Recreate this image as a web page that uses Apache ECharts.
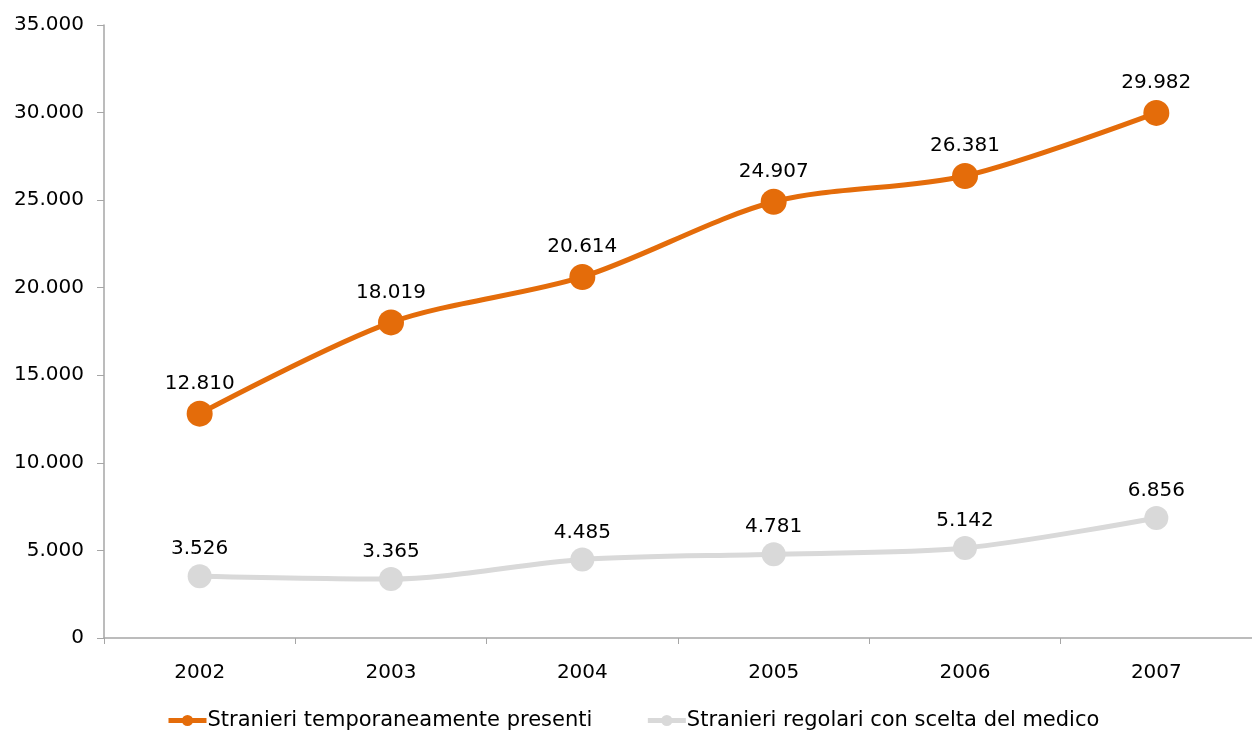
<!DOCTYPE html>
<html>
<head>
<meta charset="utf-8">
<script src="https://cdn.jsdelivr.net/npm/echarts@6/dist/echarts.min.js"></script>
<style>
  html, body { margin: 0; padding: 0; background: #fff; }
  #chart { width: 1252px; height: 733px; }
</style>
</head>
<body>
<div id="chart"></div>
<script>
// Years on the category axis
const years = ['2002', '2003', '2004', '2005', '2006', '2007'];
// Temporarily present foreigners
const temporanei = [12810, 18019, 20614, 24907, 26381, 29982];
// Regular foreigners with a chosen doctor
const regolari = [3526, 3365, 4485, 4781, 5142, 6856];
const seriesNames = ['Stranieri temporaneamente presenti', 'Stranieri regolari con scelta del medico'];

// Italian thousands separator
function fmt(v) {
  return String(Math.round(v)).replace(/\B(?=(\d{3})+(?!\d))/g, '.');
}

const font = '"DejaVu Sans", Verdana, sans-serif';
const fs = 20;
const axisColor = '#a6a6a6';

const chart = echarts.init(document.getElementById('chart'));
chart.setOption({
  animation: false,
  textStyle: { fontFamily: font },
  grid: { left: 104, right: -3, top: 25, bottom: 95, containLabel: false },
  legend: {
    bottom: 2,
    left: 166,
    padding: 0,
    itemWidth: 38,
    itemHeight: 14,
    itemGap: 53,
    lineStyle: { width: 5 },
    textStyle: { fontFamily: font, fontSize: 21, color: '#000', padding: [0, 0, 0, -4] },
    data: seriesNames
  },
  xAxis: {
    type: 'category',
    data: years,
    boundaryGap: true,
    axisLine: { lineStyle: { color: axisColor, width: 1.5 } },
    axisTick: { show: true, length: 6, alignWithLabel: false, lineStyle: { color: axisColor } },
    axisLabel: { color: '#000', fontSize: fs, fontFamily: font, margin: 25 }
  },
  yAxis: {
    type: 'value',
    min: 0,
    max: 35000,
    interval: 5000,
    splitLine: { show: false },
    axisLine: { show: true, lineStyle: { color: axisColor, width: 1.5 } },
    axisTick: { show: true, length: 7, lineStyle: { color: axisColor } },
    axisLabel: { color: '#000', fontSize: fs, fontFamily: font, margin: 20, formatter: fmt }
  },
  series: [
    {
      name: seriesNames[0],
      type: 'line',
      data: temporanei,
      smooth: 0.3,
      symbol: 'circle',
      symbolSize: 26,
      lineStyle: { color: '#e46c0a', width: 5 },
      itemStyle: { color: '#e46c0a' },
      label: {
        show: true, position: 'top', distance: 7,
        color: '#000', fontSize: fs, fontFamily: font,
        formatter: p => fmt(p.value)
      }
    },
    {
      name: seriesNames[1],
      type: 'line',
      data: regolari,
      smooth: 0.3,
      symbol: 'circle',
      symbolSize: 24,
      lineStyle: { color: '#d9d9d9', width: 5 },
      itemStyle: { color: '#d9d9d9' },
      label: {
        show: true, position: 'top', distance: 5,
        color: '#000', fontSize: fs, fontFamily: font,
        formatter: p => fmt(p.value)
      }
    }
  ]
});
</script>
</body>
</html>
